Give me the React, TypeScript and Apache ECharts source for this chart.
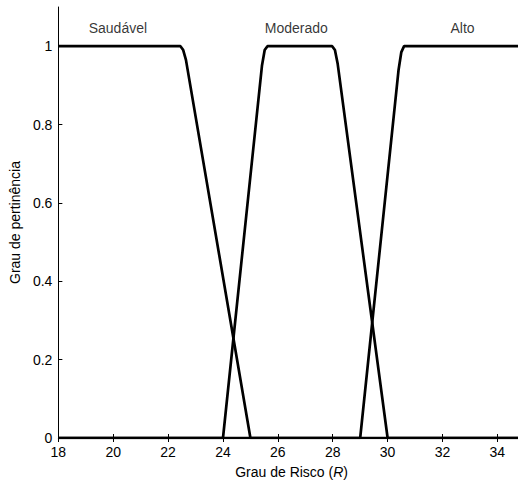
import React, { useEffect, useRef } from "react";
import * as echarts from "echarts";

const xTicks = [18, 20, 22, 24, 26, 28, 30, 32, 34];
const yTicks = [0, 0.2, 0.4, 0.6, 0.8, 1];

const saudavel: [number, number][] = [
  [18, 1], [22.45, 1], [22.55, 0.99], [22.65, 0.965], [25, 0], [35, 0],
];
const moderado: [number, number][] = [
  [18, 0], [24, 0], [25.42, 0.95], [25.52, 0.99], [25.62, 1], [27.98, 1],
  [28.08, 0.99], [28.18, 0.955], [30, 0], [35, 0],
];
const alto: [number, number][] = [
  [18, 0], [29, 0], [30.4, 0.94], [30.5, 0.985], [30.6, 1], [35, 1],
];

const classNames = ["Saudável", "Moderado", "Alto"];
const classPos: [number, number][] = [[20.17, 1.046], [26.67, 1.046], [32.73, 1.046]];

const FONT = "'Liberation Sans', Arial, Helvetica, sans-serif";

export default function App() {
  const ref = useRef<HTMLDivElement>(null);
  useEffect(() => {
    if (!ref.current) return;
    const chart = echarts.init(ref.current, undefined, { renderer: "svg" });
    const lineSeries = (data: [number, number][]) => ({
      type: "line",
      data,
      showSymbol: false,
      symbol: "none",
      lineStyle: { color: "#000", width: 2.7 },
      clip: true,
      silent: true,
    });
    chart.setOption({
      animation: false,
      grid: { left: 57.3, top: 7, bottom: 49, right: 5.2 },
      xAxis: [
        {
          type: "value",
          min: 18,
          max: 35,
          interval: 2,
          name: "Grau de Risco ({i|R})",
          nameLocation: "middle",
          nameGap: 27,
          nameTextStyle: {
            color: "#000",
            fontSize: 14,
            fontFamily: FONT,
            rich: { i: { fontStyle: "italic", fontSize: 14, fontFamily: FONT, color: "#000" } },
          },
          axisLine: { show: true, lineStyle: { color: "#000", width: 1 } },
          axisTick: { show: true, inside: true, length: 4, lineStyle: { color: "#000" } },
          axisLabel: {
            color: "#000",
            fontSize: 14,
            fontFamily: FONT,
            margin: 7,
            showMaxLabel: false,
            formatter: (v: number) => (xTicks.includes(v) ? String(v) : ""),
          },
          splitLine: { show: false },
        },
        {
          type: "value",
          position: "top",
          min: 18,
          max: 35,
          interval: 2,
          axisLine: { show: true, lineStyle: { color: "#000", width: 1 } },
          axisTick: { show: true, inside: true, length: 4, lineStyle: { color: "#000" } },
          axisLabel: { show: false },
          splitLine: { show: false },
        },
      ],
      yAxis: [
        {
          type: "value",
          min: 0,
          max: 1.1,
          interval: 0.2,
          name: "Grau de pertinência",
          nameLocation: "middle",
          nameGap: 32,
          nameTextStyle: { color: "#000", fontSize: 14, fontFamily: FONT },
          axisLine: { show: true, lineStyle: { color: "#000", width: 1 } },
          axisTick: { show: true, inside: true, length: 4, lineStyle: { color: "#000" } },
          axisLabel: {
            color: "#000",
            fontSize: 14,
            fontFamily: FONT,
            margin: 6,
            showMaxLabel: false,
            formatter: (v: number) => {
              const t = yTicks.find((y) => Math.abs(y - v) < 1e-6);
              return t === undefined ? "" : String(t);
            },
          },
          splitLine: { show: false },
        },
        {
          type: "value",
          position: "right",
          min: 0,
          max: 1.1,
          interval: 0.2,
          axisLine: { show: true, lineStyle: { color: "#000", width: 1 } },
          axisTick: { show: true, inside: true, length: 4, lineStyle: { color: "#000" } },
          axisLabel: { show: false },
          splitLine: { show: false },
        },
      ],
      series: [
        lineSeries(saudavel),
        lineSeries(moderado),
        lineSeries(alto),
        {
          type: "scatter",
          symbolSize: 0,
          silent: true,
          data: classNames.map((n, i) => ({ name: n, value: classPos[i] })),
          label: {
            show: true,
            position: "inside",
            formatter: (p: any) => p.name,
            color: "#000",
            fontSize: 14,
            fontFamily: FONT,
          },
        },
      ],
    });
    return () => chart.dispose();
  }, []);
  return (
    <div
      style={{ position: "fixed", left: 0, top: 0, width: 518, height: 487, overflow: "hidden", background: "#fff" }}
    >
      <div ref={ref} style={{ width: 530, height: 487 }} />
    </div>
  );
}
